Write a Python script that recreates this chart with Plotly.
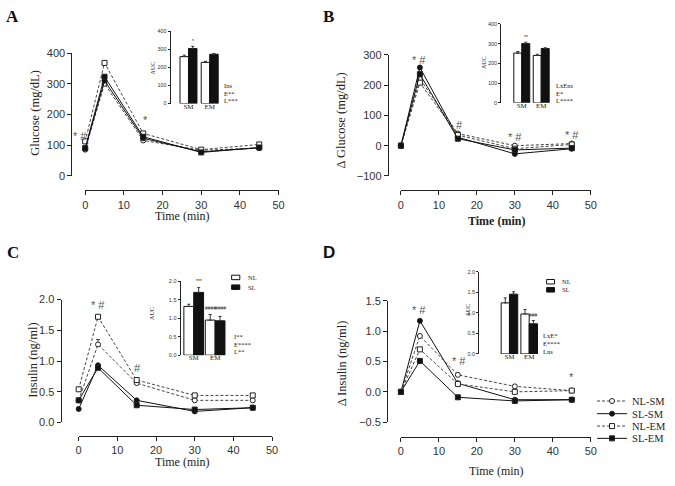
import plotly.graph_objects as go

W, H = 675, 486
def fx(p): return p / W
def fy(p): return 1 - p / H

SANS = "Liberation Sans, Arial, sans-serif"
SERIF = "Liberation Serif, Times New Roman, serif"

# ---------------- data ----------------
time_min = [0, 5, 15, 30, 45]
groups = ["NL-SM", "SL-SM", "NL-EM", "SL-EM"]

glucose_nl_sm = [85, 300, 115, 83, 90]
glucose_sl_sm = [88, 310, 122, 78, 91]
glucose_nl_em = [112, 368, 138, 85, 102]
glucose_sl_em = [90, 323, 127, 76, 92]

dglucose_nl_sm = [0, 220, 40, 0, 7]
dglucose_sl_sm = [0, 258, 28, -27, -10]
dglucose_nl_em = [0, 208, 35, -10, 4]
dglucose_sl_em = [0, 236, 23, -14, -8]

insulin_nl_sm = [0.36, 1.27, 0.64, 0.36, 0.36]
insulin_sl_sm = [0.22, 0.93, 0.36, 0.18, 0.24]
insulin_nl_em = [0.54, 1.72, 0.69, 0.44, 0.44]
insulin_sl_em = [0.36, 0.89, 0.28, 0.21, 0.24]
insulin_nl_sm_err = [0, 0.08, 0, 0, 0]

dinsulin_nl_sm = [0, 0.92, 0.28, 0.09, 0.02]
dinsulin_sl_sm = [0, 1.17, 0.14, -0.13, -0.13]
dinsulin_nl_em = [0, 0.70, 0.13, 0.00, 0.02]
dinsulin_sl_em = [0, 0.51, -0.09, -0.15, -0.13]

auc_categories = ["SM", "EM"]
auc_glucose_nl = [260, 228]
auc_glucose_nl_err = [8, 6]
auc_glucose_sl = [305, 273]
auc_glucose_sl_err = [12, 4]
auc_dglucose_nl = [252, 240]
auc_dglucose_nl_err = [8, 6]
auc_dglucose_sl = [300, 275]
auc_dglucose_sl_err = [7, 4]
auc_insulin_nl = [1.32, 0.95]
auc_insulin_nl_err = [0.06, 0.15]
auc_insulin_sl = [1.70, 0.93]
auc_insulin_sl_err = [0.13, 0.12]
auc_dinsulin_nl = [1.24, 0.97]
auc_dinsulin_nl_err = [0.12, 0.11]
auc_dinsulin_sl = [1.45, 0.73]
auc_dinsulin_sl_err = [0.06, 0.08]

# significance marks on main panels: (text, time, value, pixel shift)
sig_A = [("* #", 0, 130, -5), ("* #", 5.3, 410, 0), ("*", 15.5, 181, 0)]
sig_B = [("* #", 4.7, 284, 0), ("#", 15.3, 68, 0), ("* #", 30.1, 30, 0), ("* #", 45, 35, 0)]
sig_C = [("* #", 5.1, 1.91, 0), ("#", 15.1, 0.88, 0)]
sig_D = [("* #", 4.7, 1.355, 0), ("* #", 15.25, 0.51, 0), ("*", 45, 0.25, 0)]

stats_A = ["Ins", "E**", "L***"]
stats_B = ["LxEns", "E*", "L****"]
stats_C = ["I**", "E****", "L**"]
stats_D = ["LxE*", "E****", "Lns"]

# ---------------- styling ----------------
styles = {
    "NL-SM": dict(dash="3px,2px", symbol="circle", fill="white", lc="#444"),
    "SL-SM": dict(dash="solid", symbol="circle", fill="#111", lc="#111"),
    "NL-EM": dict(dash="3px,2px", symbol="square", fill="white", lc="#444"),
    "SL-EM": dict(dash="solid", symbol="square", fill="#111", lc="#111"),
}
legend_rows = {"NL-SM": 405, "SL-SM": 418, "NL-EM": 430.7, "SL-EM": 443.3}
legend_ids = {"NL-SM": "legend", "SL-SM": "legend2", "NL-EM": "legend3", "SL-EM": "legend4"}

main_panels = [
    dict(n=1, letter="A", lx=9.5, ly=11, lfont=SERIF,
         x0=83.3, x1=279.3, ytop=48.3, ybot=174, xline=189, yline=69.3,
         yr=[0, 400], dtick=100, fmt="",
         series=[glucose_nl_sm, glucose_sl_sm, glucose_nl_em, glucose_sl_em],
         errs=None,
         ytitle="Glucose (mg/dL)", ytx=33, yty=110, xtx=182, xty=215, xbold=False,
         sig=sig_A),
    dict(n=2, letter="B", lx=330, ly=11, lfont=SERIF,
         x0=403.3, x1=595.7, ytop=50, ybot=174.3, xline=189, yline=390,
         yr=[-100, 300], dtick=100, fmt="",
         series=[dglucose_nl_sm, dglucose_sl_sm, dglucose_nl_em, dglucose_sl_em],
         errs=None,
         ytitle="Δ Glucose (mg/dL)", ytx=343, yty=117, xtx=500, xty=220.7, xbold=True,
         sig=sig_B),
    dict(n=3, letter="C", lx=10, ly=253, lfont=SERIF,
         x0=76.7, x1=272.7, ytop=301, ybot=427, xline=441, yline=58.3,
         yr=[0, 2], dtick=0.5, fmt=".1f",
         series=[insulin_nl_sm, insulin_sl_sm, insulin_nl_em, insulin_sl_em],
         errs=insulin_nl_sm_err,
         ytitle="Insulin (ng/ml)", ytx=30, yty=363, xtx=182, xty=467.7, xbold=False,
         sig=sig_C),
    dict(n=4, letter="D", lx=330, ly=253, lfont=SANS,
         x0=403.3, x1=595.7, ytop=302.3, ybot=426.7, xline=441.7, yline=389.3,
         yr=[-0.5, 1.5], dtick=0.5, fmt=".1f",
         series=[dinsulin_nl_sm, dinsulin_sl_sm, dinsulin_nl_em, dinsulin_sl_em],
         errs=None,
         ytitle="Δ Insulin (ng/ml)", ytx=343.3, yty=366.7, xtx=500, xty=477, xbold=False,
         sig=sig_D),
]

inset_panels = [
    dict(n=5, ax=170, c0=188, sp=21.5, ytop=26, ybot=100, w=0.40, yr=[0, 400], dtick=100, fmt="",
         nl=auc_glucose_nl, nle=auc_glucose_nl_err, sl=auc_glucose_sl, sle=auc_glucose_sl_err,
         auc=(152, 63), stats=stats_A, sx=222, sy=[82, 89.5, 97],
         marks=[("*", 0.2, 319)], legend=None),
    dict(n=6, ax=505, c0=525.8, sp=19.7, ytop=18.3, ybot=99.3, w=0.41, yr=[0, 400], dtick=100, fmt="",
         nl=auc_dglucose_nl, nle=auc_dglucose_nl_err, sl=auc_dglucose_sl, sle=auc_dglucose_sl_err,
         auc=(487, 58), stats=stats_B, sx=558, sy=[82, 89.5, 97],
         marks=[("**", 0.205, 309)], legend=None),
    dict(n=7, ax=180, c0=193.3, sp=21.7, ytop=282.3, ybot=358, w=0.46, yr=[0, 2], dtick=0.5, fmt=".1f",
         nl=auc_insulin_nl, nle=auc_insulin_nl_err, sl=auc_insulin_sl, sle=auc_insulin_sl_err,
         auc=(151.7, 315), stats=stats_C, sx=231.7, sy=[339, 346.7, 354.3],
         marks=[("***", 0.23, 1.86), ("####", 0.77, 1.13), ("####", 1.23, 1.13)],
         legend=dict(bx0=231.7, bx1=240, y1=278.3, y2=288.3, tx=246)),
    dict(n=8, ax=482.7, c0=513.3, sp=20, ytop=272.3, ybot=356.7, w=0.42, yr=[0, 2], dtick=0.5, fmt=".1f",
         nl=auc_dinsulin_nl, nle=auc_dinsulin_nl_err, sl=auc_dinsulin_sl, sle=auc_dinsulin_sl_err,
         auc=(471.7, 311.7), stats=stats_D, sx=545.7, sy=[338.3, 346, 354],
         marks=[("###", 1.21, 0.83)],
         legend=dict(bx0=551, bx1=559, y1=282.7, y2=291, tx=565)),
]

fig = go.Figure()
annotations = []
shapes = []

def axname(kind, n):
    return kind if n == 1 else f"{kind}{n}"

def paper_text(text, x, y, size, family=SERIF, angle=0, xanchor="center", color="#222"):
    annotations.append(dict(text=text, x=fx(x), y=fy(y), xref="paper", yref="paper",
                            xanchor=xanchor, yanchor="middle", showarrow=False,
                            textangle=angle, font=dict(family=family, size=size, color=color)))

# ---------------- main panels ----------------
for p in main_panels:
    n = p["n"]
    xa, ya = axname("x", n), axname("y", n)
    for i, g in enumerate(groups):
        s = styles[g]
        err = None
        if p["errs"] is not None and g == "NL-SM":
            err = dict(type="data", array=p["errs"], arrayminus=[0] * len(p["errs"]),
                       symmetric=False, color="#444", thickness=1, width=2)
        fig.add_trace(go.Scatter(
            x=time_min, y=p["series"][i], name=g, mode="lines+markers",
            xaxis=xa, yaxis=ya, cliponaxis=False,
            line=dict(color=s["lc"], width=1, dash=s["dash"]),
            marker=dict(symbol=s["symbol"], size=5, color=s["fill"],
                        line=dict(color="#222", width=1)),
            error_y=err,
            showlegend=(n == 4), legend=legend_ids[g],
        ))
    axis_common = dict(showgrid=False, zeroline=False, showline=True, linecolor="#222",
                       linewidth=1, ticks="outside", ticklen=4, tickwidth=1, tickcolor="#222",
                       tickfont=dict(family=SANS, size=11, color="#333"))
    fig.layout[axname("xaxis", n)] = dict(
        domain=[fx(p["x0"]), fx(p["x1"])], range=[0, 50], dtick=10, tick0=0,
        anchor="free", position=fy(p["xline"]), **axis_common)
    fig.layout[axname("yaxis", n)] = dict(
        domain=[fy(p["ybot"]), fy(p["ytop"])], range=p["yr"], dtick=p["dtick"],
        tickformat=p["fmt"], anchor="free", position=fx(p["yline"]), **axis_common)
    paper_text(f"<b>{p['letter']}</b>", p["lx"], p["ly"], 17, family=p["lfont"], color="#111")
    paper_text(p["ytitle"], p["ytx"], p["yty"], 12.5, angle=-90)
    xt = "<b>Time (min)</b>" if p["xbold"] else "Time (min)"
    paper_text(xt, p["xtx"], p["xty"], 12)
    for txt, t, v, sh in p["sig"]:
        annotations.append(dict(text=txt, x=t, y=v, xref=xa, yref=ya, showarrow=False,
                                xanchor="center", yanchor="middle", xshift=sh,
                                font=dict(family=SANS, size=11, color="#555")))

# ---------------- insets ----------------
for p in inset_panels:
    n = p["n"]
    xa, ya = axname("x", n), axname("y", n)
    xr0 = (p["ax"] - p["c0"]) / p["sp"]
    xr1 = 1.6
    cats = [0, 1]
    fig.add_trace(go.Bar(
        x=cats, y=p["nl"], width=p["w"], offset=-p["w"], name="NL",
        xaxis=xa, yaxis=ya, showlegend=False,
        marker=dict(color="white", line=dict(color="#111", width=1)),
        error_y=dict(type="data", array=p["nle"], arrayminus=[0, 0], symmetric=False,
                     color="#333", thickness=1, width=1.5)))
    fig.add_trace(go.Bar(
        x=cats, y=p["sl"], width=p["w"], offset=0, name="SL",
        xaxis=xa, yaxis=ya, showlegend=False,
        marker=dict(color="#111", line=dict(color="#111", width=1)),
        error_y=dict(type="data", array=p["sle"], arrayminus=[0, 0], symmetric=False,
                     color="#333", thickness=1, width=1.5)))
    fig.layout[axname("xaxis", n)] = dict(
        domain=[fx(p["ax"]), fx(p["c0"] + xr1 * p["sp"])], range=[xr0, xr1],
        anchor=ya, showline=False, showgrid=False, zeroline=False, ticks="",
        tickvals=cats, ticktext=auc_categories, ticklabelstandoff=-3,
        tickfont=dict(family=SERIF, size=7, color="#222"))
    fig.layout[axname("yaxis", n)] = dict(
        domain=[fy(p["ybot"]), fy(p["ytop"])], range=p["yr"], dtick=p["dtick"],
        tickformat=p["fmt"], anchor=xa, showline=True, linecolor="#222", linewidth=1,
        showgrid=False, zeroline=False, ticks="outside", ticklen=2, tickwidth=1,
        tickcolor="#222", tickfont=dict(family=SANS, size=5.5, color="#333"))
    paper_text("AUC", p["auc"][0], p["auc"][1], 6, angle=-90)
    for txt, yy in zip(p["stats"], p["sy"]):
        paper_text(txt, p["sx"], yy, 6.5, xanchor="left")
    for txt, xx, yy in p["marks"]:
        annotations.append(dict(text=txt, x=xx, y=yy, xref=xa, yref=ya, showarrow=False,
                                xanchor="center", yanchor="bottom",
                                font=dict(family=SANS, size=5, color="#222")))
    lg = p["legend"]
    if lg:
        for yy, fill, lab in [(lg["y1"], "white", "NL"), (lg["y2"], "#111", "SL")]:
            shapes.append(dict(type="rect", xref="paper", yref="paper",
                               x0=fx(lg["bx0"]), x1=fx(lg["bx1"]), y0=fy(yy + 2.3), y1=fy(yy - 2.3),
                               line=dict(color="#111", width=1), fillcolor=fill))
            paper_text(lab, lg["tx"], yy, 6.5, xanchor="left")

legend_common = dict(xanchor="left", yanchor="middle", bgcolor="rgba(0,0,0,0)",
                     font=dict(family=SERIF, size=10.5, color="#222"), itemwidth=30,
                     borderwidth=0)
layout_legends = {}
for g in groups:
    layout_legends[legend_ids[g]] = dict(x=fx(597), y=fy(legend_rows[g]), **legend_common)

fig.update_layout(
    width=W, height=H, margin=dict(l=0, r=0, t=0, b=0),
    paper_bgcolor="white", plot_bgcolor="white",
    annotations=annotations, shapes=shapes,
    **layout_legends,
)

fig.write_html("out.html", config={"displayModeBar": False},
               post_script="document.body.style.margin='0px';document.body.style.overflow='hidden';")
